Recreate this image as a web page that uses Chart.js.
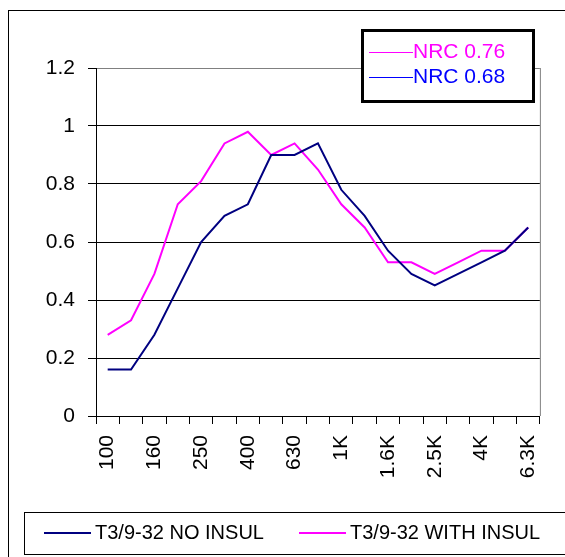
<!DOCTYPE html>
<html>
<head>
<meta charset="utf-8">
<script src="https://cdn.jsdelivr.net/npm/chart.js@4"></script>
<style>
  body { margin: 0; background: #fff; }
  #wrap { width: 565px; height: 557px; }
</style>
</head>
<body>
<div id="wrap"><canvas id="myChart" width="565" height="557"></canvas></div>
<script>
// 1/3 octave bands
const categories = ['100', '125', '160', '200', '250', '315', '400', '500', '630', '800',
  '1K', '1.25K', '1.6K', '2K', '2.5K', '3.15K', '4K', '5K', '6.3K'];
const noInsul = [0.16, 0.16, 0.28, 0.44, 0.60, 0.69, 0.73, 0.90, 0.90, 0.94,
  0.78, 0.69, 0.57, 0.49, 0.45, 0.49, 0.53, 0.57, 0.65];
const withInsul = [0.28, 0.33, 0.49, 0.73, 0.81, 0.94, 0.98, 0.90, 0.94, 0.85,
  0.73, 0.65, 0.53, 0.53, 0.49, 0.53, 0.57, 0.57, 0.65];
const seriesNames = ['T3/9-32 NO INSUL', 'T3/9-32 WITH INSUL'];
const nrcLabels = ['NRC 0.76', 'NRC 0.68'];
const yTicks = [0, 0.2, 0.4, 0.6, 0.8, 1, 1.2];

const FONT = '"Liberation Sans", Arial, sans-serif';

// extra drawing: outer frame, NRC box, bottom legend
const decorPlugin = {
  id: 'decor',
  afterDraw(chart) {
    const ctx = chart.ctx;
    const a = chart.chartArea;
    ctx.save();

    // outer frame (runs off right/bottom edges)
    ctx.strokeStyle = '#000';
    ctx.lineWidth = 1;
    ctx.strokeRect(8.5, 10.5, 700, 700);

    // gray right border of plot area
    ctx.strokeStyle = '#808080';
    ctx.beginPath();
    ctx.moveTo(a.right + 0.5, a.top);
    ctx.lineTo(a.right + 0.5, a.bottom);
    ctx.stroke();

    // NRC box
    ctx.fillStyle = '#fff';
    ctx.fillRect(362, 30, 172, 72);
    ctx.strokeStyle = '#000';
    ctx.lineWidth = 3;
    ctx.strokeRect(362.5, 30.5, 171, 71);
    const nrcCol = ['#FF00FF', '#0000FF'];
    ctx.font = '21px ' + FONT;
    ctx.textBaseline = 'middle';
    ctx.textAlign = 'left';
    nrcLabels.forEach((t, i) => {
      const y = 52 + i * 25;
      ctx.strokeStyle = nrcCol[i];
      ctx.lineWidth = 1;
      ctx.beginPath();
      ctx.moveTo(369, y + 0.5);
      ctx.lineTo(413, y + 0.5);
      ctx.stroke();
      ctx.fillStyle = nrcCol[i];
      ctx.fillText(t, 413, y);
    });

    // bottom legend
    ctx.strokeStyle = '#000';
    ctx.lineWidth = 1;
    ctx.strokeRect(24.5, 512.5, 700, 42);
    ctx.font = '20px ' + FONT;
    const xs = [44, 299];
    chart.data.datasets.forEach((ds, i) => {
      ctx.strokeStyle = ds.borderColor;
      ctx.lineWidth = 2;
      ctx.beginPath();
      ctx.moveTo(xs[i], 533);
      ctx.lineTo(xs[i] + 47, 533);
      ctx.stroke();
      ctx.fillStyle = '#000';
      ctx.fillText(ds.label, xs[i] + 51, 533);
    });
    ctx.restore();
  }
};

const ctx = document.getElementById('myChart').getContext('2d');
new Chart(ctx, {
  type: 'line',
  data: {
    labels: categories,
    datasets: [{
      label: seriesNames[0],
      data: noInsul,
      borderColor: '#000080',
      borderWidth: 2,
      pointRadius: 0,
      tension: 0,
      fill: false
    }, {
      label: seriesNames[1],
      data: withInsul,
      borderColor: '#FF00FF',
      borderWidth: 2,
      pointRadius: 0,
      tension: 0,
      fill: false
    }]
  },
  options: {
    responsive: false,
    animation: false,
    layout: { padding: { top: 68, right: 23, bottom: 61, left: 0 } },
    plugins: {
      legend: { display: false },
      tooltip: { enabled: false }
    },
    scales: {
      x: {
        offset: true,
        grid: { offset: true, drawOnChartArea: false, drawTicks: true, tickLength: 8, color: '#000' },
        border: { color: '#000', width: 1 },
        ticks: {
          autoSkip: false,
          minRotation: 90,
          maxRotation: 90,
          padding: 11,
          color: '#000',
          font: { family: FONT, size: 21 },
          callback: (v, i) => (i % 2 === 0 ? categories[i] : '')
        },
        afterFit: (s) => { s.height = 80; }
      },
      y: {
        min: 0,
        max: 1.2,
        afterBuildTicks: (s) => { s.ticks = yTicks.map(v => ({ value: v })); },
        grid: {
          color: (c) => (c.tick && c.tick.value === 1.2 ? '#808080' : '#000'),
          tickColor: '#000',
          tickLength: 8,
          lineWidth: 1
        },
        border: { color: '#000', width: 1 },
        ticks: {
          padding: 13,
          color: '#000',
          font: { family: FONT, size: 21 },
          callback: (v) => String(Number(v.toFixed(1)))
        },
        afterFit: (s) => { s.width = 96; }
      }
    }
  },
  plugins: [decorPlugin]
});
</script>
</body>
</html>
